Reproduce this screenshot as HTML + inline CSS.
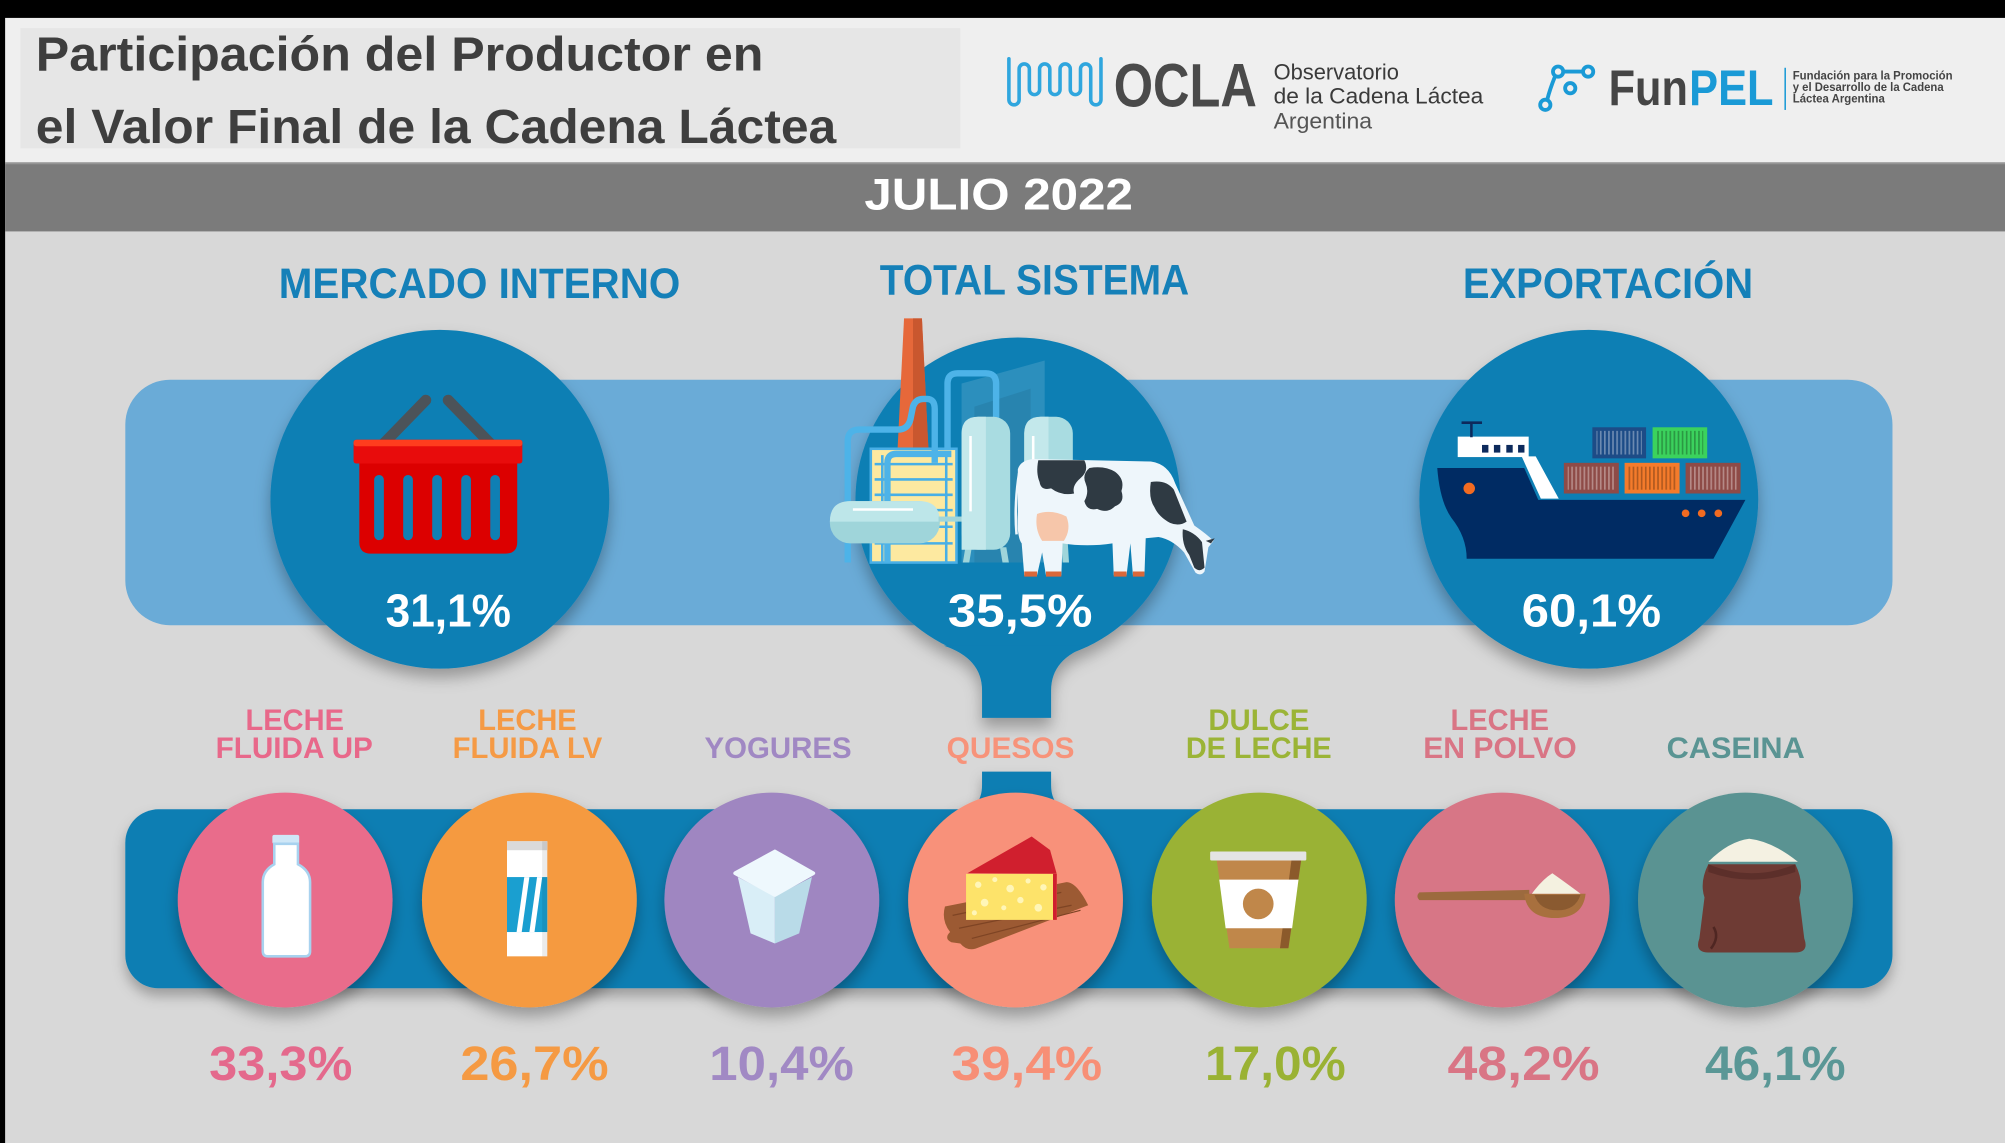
<!DOCTYPE html>
<html><head><meta charset="utf-8"><style>
html,body{margin:0;padding:0;background:#d8d8d8;}
svg{display:block;}
text{font-family:"Liberation Sans",Arial,sans-serif;font-weight:bold;}
</style></head><body>
<svg width="2005" height="1143" viewBox="0 0 1568 894" preserveAspectRatio="none" xmlns="http://www.w3.org/2000/svg">
<defs>
<filter id="sh" x="-25%" y="-25%" width="150%" height="160%"><feDropShadow dx="0" dy="7" stdDeviation="6" flood-color="#000" flood-opacity="0.3"/></filter>
<filter id="sh2" x="-5%" y="-20%" width="110%" height="150%"><feDropShadow dx="0" dy="6" stdDeviation="5" flood-color="#000" flood-opacity="0.28"/></filter>
<pattern id="st" width="3.2" height="10" patternUnits="userSpaceOnUse"><rect width="1.3" height="10" fill="#000" fill-opacity=".28"/></pattern>
<pattern id="stL" width="3.2" height="10" patternUnits="userSpaceOnUse"><rect width="1.3" height="10" fill="#fff" fill-opacity=".35"/></pattern>
</defs>

<!-- backgrounds -->
<rect x="0" y="0" width="1568" height="894" fill="#d8d8d8"/>
<rect x="0" y="14" width="1568" height="113" fill="#efefef"/>
<rect x="0" y="0" width="1568" height="14" fill="#000"/>
<rect x="0" y="0" width="4" height="894" fill="#000"/>
<rect x="16" y="22" width="735" height="94" fill="#e6e6e6"/>
<rect x="4" y="127" width="1564" height="54" fill="#7b7b7b"/>
<rect x="4" y="127" width="1564" height="1.5" fill="#959595"/>

<!-- title -->
<text x="28" y="55" font-size="38" fill="#3e3e3e" textLength="569" lengthAdjust="spacingAndGlyphs">Participación del Productor en</text>
<text x="28" y="112" font-size="38" fill="#3e3e3e" textLength="626" lengthAdjust="spacingAndGlyphs">el Valor Final de la Cadena Láctea</text>

<!-- OCLA logo -->
<path d="M789,46 L789,78 A4,4 0 0 0 797,78 L797,54 A4,4 0 0 1 805,54 L805,70 A4,4 0 0 0 813,70 L813,54 A4,4 0 0 1 821,54 L821,70 A4,4 0 0 0 829,70 L829,54 A4,4 0 0 1 837,54 L837,70 A4,4 0 0 0 845,70 L845,54 A4,4 0 0 1 853,54 L853,78 A4,4 0 0 0 861,78 L861,46" fill="none" stroke="#2fa6de" stroke-width="2.8" stroke-linecap="round"/>
<text x="871" y="83.5" font-size="48" fill="#4a4a4a" textLength="112" lengthAdjust="spacingAndGlyphs">OCLA</text>
<text x="996" y="62" font-size="17" fill="#3a3a3a" style="font-weight:normal" textLength="98" lengthAdjust="spacingAndGlyphs">Observatorio</text>
<text x="996" y="81" font-size="17" fill="#3a3a3a" style="font-weight:normal" textLength="164" lengthAdjust="spacingAndGlyphs">de la Cadena Láctea</text>
<text x="996" y="100.5" font-size="17" fill="#555" style="font-weight:normal" textLength="77" lengthAdjust="spacingAndGlyphs">Argentina</text>

<!-- FunPEL logo -->
<g fill="none" stroke="#1a9ad6" stroke-width="3">
<path d="M1223,56 L1237,56"/>
<path d="M1216,60 Q1212,70 1210,78"/>
<circle cx="1218.5" cy="56" r="4"/>
<circle cx="1242" cy="56" r="4"/>
<circle cx="1228" cy="69" r="4"/>
<circle cx="1208.5" cy="82" r="4"/>
</g>
<text x="1258" y="82" font-size="39" fill="#454545" textLength="62" lengthAdjust="spacingAndGlyphs">Fun</text>
<text x="1321" y="82" font-size="39" fill="#1a9ad6" textLength="66" lengthAdjust="spacingAndGlyphs">PEL</text>
<rect x="1395.5" y="53" width="1.2" height="33" fill="#1a9ad6"/>
<text x="1402" y="62" font-size="9.5" fill="#444" textLength="125" lengthAdjust="spacingAndGlyphs">Fundación para la Promoción</text>
<text x="1402" y="71" font-size="9.5" fill="#444" textLength="118" lengthAdjust="spacingAndGlyphs">y el Desarrollo de la Cadena</text>
<text x="1402" y="80.3" font-size="9.5" fill="#444" textLength="72" lengthAdjust="spacingAndGlyphs">Láctea Argentina</text>

<!-- JULIO -->
<text x="676" y="164" font-size="35" fill="#ffffff" textLength="210" lengthAdjust="spacingAndGlyphs">JULIO 2022</text>

<!-- headings -->
<text x="218" y="233" font-size="33" fill="#1580b8" textLength="314" lengthAdjust="spacingAndGlyphs">MERCADO INTERNO</text>
<text x="688" y="230.5" font-size="33" fill="#1580b8" textLength="242" lengthAdjust="spacingAndGlyphs">TOTAL SISTEMA</text>
<text x="1144" y="233" font-size="33" fill="#1580b8" textLength="227" lengthAdjust="spacingAndGlyphs">EXPORTACIÓN</text>

<!-- light band -->
<rect x="98" y="297" width="1382" height="192" rx="35" fill="#6aabd7"/>

<!-- top circles -->
<circle cx="344" cy="390.5" r="132.5" fill="#0f7fb4" filter="url(#sh)"/>
<circle cx="1242.5" cy="390.5" r="132.5" fill="#0f7fb4" filter="url(#sh)"/>
<g filter="url(#sh)" fill="#0f7fb4">
<circle cx="796" cy="391" r="127"/>
<path d="M738,505 Q768,515 768,540 L768,561.5 L822,561.5 L822,540 Q822,515 852,505 Z"/>
</g>

<!-- bottom bar + lower connector -->
<g filter="url(#sh2)" fill="#0e7eb3">
<rect x="98" y="633" width="1382" height="140" rx="26"/>
<path d="M768,603.5 L822,603.5 L822,614 Q822,634 842,634 L748,634 Q768,634 768,614 Z"/>
</g>

<!-- bottom circles -->
<g filter="url(#sh)">
<circle cx="223" cy="704" r="84" fill="#e96c8b"/>
<circle cx="414" cy="704" r="84" fill="#f59a41"/>
<circle cx="603.6" cy="704" r="84" fill="#9f86c1"/>
<circle cx="794.2" cy="704" r="84" fill="#f8917a"/>
<circle cx="984.8" cy="704" r="84" fill="#9ab234"/>
<circle cx="1174.8" cy="704" r="84" fill="#d77686"/>
<circle cx="1365" cy="704" r="84" fill="#5a9392"/>
</g>

<!-- basket -->
<g>
<line x1="298" y1="349" x2="333" y2="313" stroke="#4c5359" stroke-width="8.5" stroke-linecap="round"/>
<line x1="350.5" y1="313" x2="387" y2="350.5" stroke="#4c5359" stroke-width="8.5" stroke-linecap="round"/>
<path d="M281,362 L404.5,362 L404.5,424 Q404.5,433 395,433 L290,433 Q281,433 281,424 Z" fill="#dc0000"/>
<rect x="276.5" y="344" width="132" height="18.5" rx="2" fill="#e80c0c"/>
<rect x="276.5" y="344" width="132" height="5" rx="2" fill="#ff3d1e"/>
<g fill="#0f7fb4">
<rect x="292.6" y="371.5" width="7.6" height="51" rx="3.8"/>
<rect x="315.3" y="371.5" width="7.6" height="51" rx="3.8"/>
<rect x="338" y="371.5" width="7.6" height="51" rx="3.8"/>
<rect x="360.7" y="371.5" width="7.6" height="51" rx="3.8"/>
<rect x="383.4" y="371.5" width="7.6" height="51" rx="3.8"/>
</g>
</g>

<!-- factory -->
<g>
<polygon points="752,300 817,282 817,440 752,440" fill="#ffffff" fill-opacity="0.13"/>
<polygon points="762,318 806,304 806,440 762,440" fill="#000" fill-opacity="0.07"/>
<polygon points="707,249 721,249 726,350 702,350" fill="#e6683a"/>
<polygon points="714,249 721,249 726,350 714,350" fill="#c9572f"/>
<rect x="681" y="351" width="67" height="89" fill="#fde9a0" stroke="#48afe6" stroke-width="2"/>
<g stroke="#48afe6" stroke-width="2">
<line x1="684" y1="363" x2="745" y2="363"/>
<line x1="684" y1="375" x2="745" y2="375"/>
<line x1="684" y1="387" x2="745" y2="387"/>
<line x1="684" y1="399" x2="745" y2="399"/>
<line x1="684" y1="412" x2="745" y2="412"/>
<line x1="684" y1="425" x2="745" y2="425"/>
<line x1="690" y1="356" x2="690" y2="440"/>
<line x1="740" y1="356" x2="740" y2="440"/>
</g>
<g fill="none" stroke="#4db3e8" stroke-width="5">
<path d="M741,352 L741,300 Q741,292 749,292 L771,292 Q779,292 779,300 L779,332"/>
<path d="M663,440 L663,345 Q663,336 672,336 L702,336 Q710,336 712,328 L714,318 Q716,312 722,312 L725,312 Q731,312 731,320 L731,362"/>
<path d="M694,440 L694,362 Q694,355 701,355 L744,355"/>
</g>
<rect x="649" y="392" width="86" height="33" rx="16" fill="#9fd5da"/>
<path d="M665,392 L719,392 Q735,392 735,408 L649,408 Q649,392 665,392 Z" fill="#bde6e9"/>
<line x1="667" y1="398.5" x2="714" y2="398.5" stroke="#fff" stroke-width="2"/>
<rect x="734" y="404" width="19" height="4" fill="#9fd5da"/>
<polygon points="755,428 760,428 758,440 753,440" fill="#9fd5da"/>
<polygon points="782,428 787,428 789,440 784,440" fill="#9fd5da"/>
<rect x="752" y="326" width="38" height="104" rx="13" fill="#a9dce1"/>
<path d="M765,326 Q752,326 752,339 L752,430 L771,430 L771,326 Z" fill="#c3e8eb"/>
<line x1="759" y1="341" x2="759" y2="400" stroke="#fff" stroke-width="2"/>
<rect x="801" y="326" width="38" height="100" rx="13" fill="#a9dce1"/>
<path d="M814,326 Q801,326 801,339 L801,426 L820,426 L820,326 Z" fill="#c3e8eb"/>
<line x1="808" y1="341" x2="808" y2="360" stroke="#fff" stroke-width="2"/>
<polygon points="805,424 810,424 809,440 804,440" fill="#9fd5da"/>
<polygon points="830,424 835,424 836,440 831,440" fill="#9fd5da"/>
</g>

<!-- cow -->
<g>
<path d="M796,367 Q798,360 808,359 L900,361 Q914,363 919,378 L934,411 Q944,418 949,423 L945,428 L942,447 Q939,451 935,448 L926,432 Q917,422 906,420 L896,421 L895,450 L886,450 L884,425 L881,450 L871,450 L870,425 Q850,428 831,425 L830,450 L818,450 L815,432 L811,450 L801,450 L799,425 Q795,420 796,400 Z" fill="#eef6fb"/>
<path d="M812,360 L848,360 Q852,368 845,374 Q838,380 840,386 Q830,388 822,382 Q814,384 813,377 Q810,370 812,360 Z" fill="#2f3a43"/>
<path d="M852,366 Q864,364 872,369 Q880,375 877,384 Q880,393 872,396 Q866,402 858,398 Q850,400 848,392 Q852,385 849,378 Q846,371 852,366 Z" fill="#2f3a43"/>
<path d="M900,377 Q912,375 918,383 L928,408 Q922,412 915,409 Q906,404 903,397 Q898,390 900,377 Z" fill="#2f3a43"/>
<path d="M925,414 Q934,416 940,424 L942,444 Q938,448 934,444 L930,434 Q924,426 925,414 Z" fill="#2f3a43"/>
<path d="M943,423 L950,421 L947,425 Z" fill="#2f3a43"/>
<path d="M811,402 Q822,398 834,404 Q838,414 832,423 L815,423 Q809,414 811,402 Z" fill="#f6c6aa"/>
<path d="M797,370 Q793,395 795,418" fill="none" stroke="#eef6fb" stroke-width="2"/>
<g fill="#d9683a">
<rect x="801" y="447" width="10" height="4"/>
<rect x="818" y="447" width="12" height="4"/>
<rect x="871" y="447" width="10" height="4"/>
<rect x="886" y="447" width="9" height="4"/>
</g>
</g>

<!-- ship -->
<g>
<rect x="1140" y="341.5" width="55.5" height="16" fill="#ffffff"/>
<polygon points="1190,357 1201,357 1219,390 1205,390" fill="#ffffff"/>
<line x1="1150.7" y1="330.6" x2="1150.7" y2="342" stroke="#0d2a5c" stroke-width="2"/>
<line x1="1143" y1="330.6" x2="1159" y2="330.6" stroke="#0d2a5c" stroke-width="2"/>
<g fill="#0d2a5c">
<rect x="1159" y="348" width="5" height="6"/>
<rect x="1168.3" y="348" width="5" height="6"/>
<rect x="1178" y="348" width="5" height="6"/>
<rect x="1187.2" y="348" width="5" height="6"/>
</g>
<path d="M1124,366 L1192,366 L1203,391 L1365,391 L1340,437 L1147,437 Q1147,420 1135,405 Q1126,392 1124,366 Z" fill="#002b63"/>
<circle cx="1149" cy="382" r="4.5" fill="#f26b21"/>
<circle cx="1318.2" cy="401.5" r="3" fill="#f26b21"/>
<circle cx="1330.8" cy="401.5" r="3" fill="#f26b21"/>
<circle cx="1343.8" cy="401.5" r="3" fill="#f26b21"/>
<rect x="1245.3" y="334.2" width="42" height="24.3" fill="#1d4c87"/>
<rect x="1248.5" y="337" width="35.5" height="18.5" fill="url(#stL)"/>
<rect x="1292.4" y="334.2" width="42.7" height="24.3" fill="#3bd25d"/>
<rect x="1295.5" y="337" width="36.5" height="18.5" fill="url(#st)"/>
<rect x="1223" y="362" width="43" height="24" fill="#8e4b47"/>
<rect x="1226" y="365" width="37" height="18" fill="url(#stL)"/>
<rect x="1270.5" y="362" width="43" height="24" fill="#f47b2b"/>
<rect x="1273.5" y="365" width="37" height="18" fill="url(#st)"/>
<rect x="1318.2" y="362" width="43" height="24" fill="#8e4b47"/>
<rect x="1321.2" y="365" width="37" height="18" fill="url(#stL)"/>
</g>

<!-- top percentages -->
<text x="301.6" y="490" font-size="36" fill="#fff" textLength="98" lengthAdjust="spacingAndGlyphs">31,1%</text>
<text x="741.3" y="490" font-size="36" fill="#fff" textLength="113" lengthAdjust="spacingAndGlyphs">35,5%</text>
<text x="1190" y="490" font-size="36" fill="#fff" textLength="109" lengthAdjust="spacingAndGlyphs">60,1%</text>

<!-- labels -->
<g font-size="23.5">
<text x="192" y="571" fill="#e8688a" textLength="77" lengthAdjust="spacingAndGlyphs">LECHE</text>
<text x="168.6" y="593" fill="#e8688a" textLength="123" lengthAdjust="spacingAndGlyphs">FLUIDA UP</text>
<text x="374" y="571" fill="#f59a45" textLength="77" lengthAdjust="spacingAndGlyphs">LECHE</text>
<text x="354" y="593" fill="#f59a45" textLength="117" lengthAdjust="spacingAndGlyphs">FLUIDA LV</text>
<text x="551" y="593" fill="#a088c3" textLength="115" lengthAdjust="spacingAndGlyphs">YOGURES</text>
<text x="740.3" y="593" fill="#f7937a" textLength="100" lengthAdjust="spacingAndGlyphs">QUESOS</text>
<text x="945" y="571" fill="#9bb437" textLength="79" lengthAdjust="spacingAndGlyphs">DULCE</text>
<text x="927.4" y="593" fill="#9bb437" textLength="114" lengthAdjust="spacingAndGlyphs">DE LECHE</text>
<text x="1134.4" y="571" fill="#d97585" textLength="77" lengthAdjust="spacingAndGlyphs">LECHE</text>
<text x="1113" y="593" fill="#d97585" textLength="120" lengthAdjust="spacingAndGlyphs">EN POLVO</text>
<text x="1303.4" y="593" fill="#5a9493" textLength="108" lengthAdjust="spacingAndGlyphs">CASEINA</text>
</g>

<!-- milk bottle -->
<g>
<rect x="213" y="653" width="21" height="7" rx="1.5" fill="#cfe7f7"/>
<path d="M214.5,660 L233,660 L233,676 Q242.5,681 242.5,690 L242.5,744 Q242.5,748 238.5,748 L209.5,748 Q205.5,748 205.5,744 L205.5,690 Q205.5,681 214.5,676 Z" fill="#ffffff" stroke="#a8d2ef" stroke-width="2"/>
</g>
<!-- carton -->
<g>
<rect x="396.5" y="658" width="31.5" height="90" fill="#ffffff"/>
<rect x="396.5" y="658" width="31.5" height="7" fill="#dadada"/>
<rect x="396.5" y="686" width="31.5" height="43" fill="#1a9fd0"/>
<polygon points="404,729 410,686 414,686 408,729" fill="#fff"/>
<polygon points="414,729 420,686 424,686 418,729" fill="#fff"/>
<rect x="424" y="658" width="4" height="90" fill="#000" fill-opacity="0.08"/>
</g>
<!-- yogurt -->
<g>
<polygon points="577,686 606,701 606,738 587,730" fill="#d9eef7"/>
<polygon points="606,701 635,686 625,730 606,738" fill="#b9dbe8"/>
<polygon points="606,666 636,683 606,700 575,683" fill="#eef8fd" stroke="#eef8fd" stroke-width="3" stroke-linejoin="round"/>
</g>
<!-- cheese -->
<g>
<path d="M739,709 L834,690 Q842,690 851,708 L763,742 Q756,744 751,738 L744,737 Q738,734 743,729 Q736,720 739,709 Z" fill="#9c5a33"/>
<path d="M745,716 L830,698 M750,726 L838,708 M760,734 L845,712" stroke="#7e4424" stroke-width="1" fill="none"/>
<polygon points="756.5,683 806.8,654.3 821.2,664.8 826.4,683.5" fill="#d01f2e"/>
<rect x="755.5" y="683.5" width="71" height="36" fill="#fde36a"/>
<rect x="823.5" y="683.5" width="3" height="36" fill="#d01f2e"/>
<g fill="#fff6b8">
<circle cx="765" cy="692" r="2.5"/><circle cx="778" cy="688" r="2"/><circle cx="790" cy="695" r="3"/><circle cx="804" cy="689" r="2"/><circle cx="816" cy="694" r="2.5"/>
<circle cx="770" cy="706" r="3"/><circle cx="785" cy="710" r="2"/><circle cx="798" cy="704" r="2.5"/><circle cx="812" cy="710" r="3"/><circle cx="762" cy="714" r="2"/>
</g>
</g>
<!-- coffee -->
<g>
<polygon points="951.5,672.6 1017.6,672.6 1007.6,741.7 961.5,741.7" fill="#c0874a"/>
<polygon points="1010,672.6 1017.6,672.6 1007.6,741.7 1001,741.7" fill="#8b5a2b"/>
<polygon points="953.5,688 1015.5,688 1010.5,726 958.5,726" fill="#ffffff"/>
<circle cx="984" cy="707" r="12" fill="#c0874a"/>
<rect x="946.4" y="666" width="75.2" height="7" rx="1" fill="#e4e4e4"/>
</g>
<!-- spoon -->
<g>
<path d="M1110,698 L1196,696 L1196,704 L1110,704 Q1107,701 1110,698 Z" fill="#9c6a3e"/>
<path d="M1192,699 L1240,699 Q1238,718 1216,718 Q1194,718 1192,699 Z" fill="#a8703e"/>
<path d="M1200,700 L1236,700 Q1232,712 1218,712 Q1204,712 1200,700 Z" fill="#8a5a30"/>
<path d="M1198,699 Q1206,688 1214,683 Q1224,690 1236,699 Z" fill="#f4f1e0"/>
</g>
<!-- sack -->
<g>
<path d="M1336,676 Q1329,690 1333,702 L1329,734 Q1325,745 1336,745 L1404,745 Q1415,745 1411,734 L1407,702 Q1411,690 1404,676 Z" fill="#6e3b34"/>
<path d="M1336,676 Q1370,690 1404,676 L1404,682 Q1370,694 1336,682 Z" fill="#5c2f2a"/>
<path d="M1336,674 Q1352,658 1368,656 Q1386,658 1406,674 Z" fill="#f4f1e2"/>
<path d="M1340,725 Q1345,733 1338,742" stroke="#4f2622" stroke-width="2" fill="none"/>
</g>

<!-- bottom percentages -->
<g font-size="38">
<text x="163.6" y="844.6" fill="#e4698c" textLength="112" lengthAdjust="spacingAndGlyphs">33,3%</text>
<text x="360" y="844.6" fill="#f59a43" textLength="116" lengthAdjust="spacingAndGlyphs">26,7%</text>
<text x="554.7" y="844.6" fill="#a189c4" textLength="113" lengthAdjust="spacingAndGlyphs">10,4%</text>
<text x="744" y="844.6" fill="#f78f76" textLength="118" lengthAdjust="spacingAndGlyphs">39,4%</text>
<text x="942.4" y="844.6" fill="#9ab234" textLength="110" lengthAdjust="spacingAndGlyphs">17,0%</text>
<text x="1132" y="844.6" fill="#d97585" textLength="119" lengthAdjust="spacingAndGlyphs">48,2%</text>
<text x="1333.4" y="844.6" fill="#5a9796" textLength="110" lengthAdjust="spacingAndGlyphs">46,1%</text>
</g>
</svg>
</body></html>
